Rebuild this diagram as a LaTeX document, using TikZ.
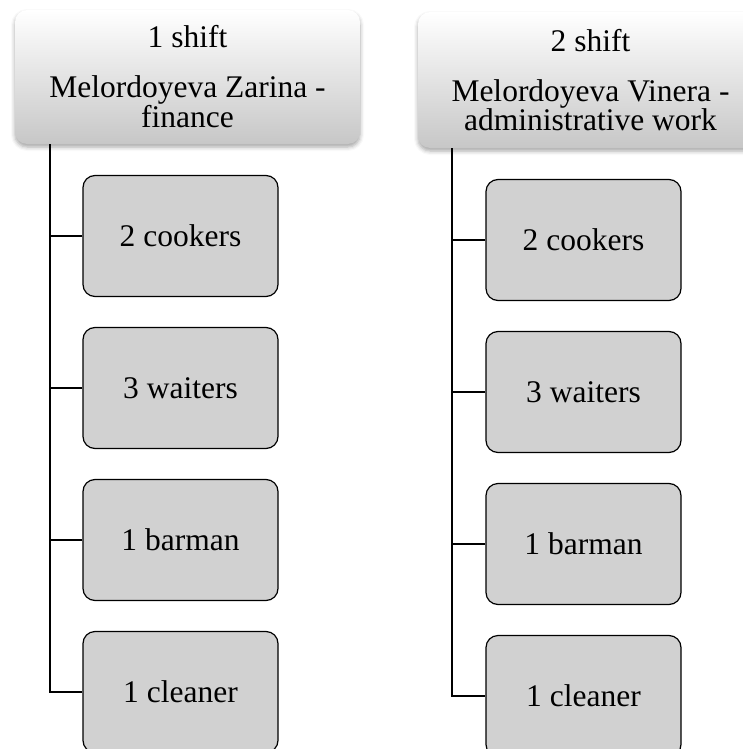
\documentclass[tikz,border=0pt]{standalone}
\usepackage{fontspec}
\setmainfont{Liberation Serif}
\usetikzlibrary{shadows.blur}
\tikzset{
    shiftbox/.style = {rectangle, rounded corners=12pt,
        top color=white, bottom color=black!22,
        blur shadow={shadow xshift=0pt, shadow yshift=-3pt, shadow opacity=35, shadow blur radius=4pt},
        minimum width=345pt, align=center,
        font=\fontsize{31.5}{28}\selectfont},
    staff/.style = {draw, rectangle, rounded corners=12pt, line width=1.2pt,
        fill=black!18, minimum height=121pt,
        minimum width=195pt, align=center,
        font=\fontsize{31.5}{38}\selectfont},
    link/.style={draw, line width=1.3pt}
}

\begin{document}
\begin{tikzpicture}[x=1pt, y=-1pt]
    \useasboundingbox (0,0) rectangle (743,749);
    \clip (0,0) rectangle (743,749);
        % first shift
        \node [shiftbox, minimum height=134pt] (top1) at (187.5,77) {1 shift\\[22pt]Melordoyeva Zarina -\\finance};
        \node [staff] (c1) at (180.5,236) {2 cookers};
        \node [staff, below of=c1, node distance=152pt] (w1) {3 waiters};
        \node [staff, below of=w1, node distance=152pt] (b1) {1 barman};
        \node [staff, below of=b1, node distance=152pt] (cl1) {1 cleaner};
        \coordinate (x1) at (50,0);
        \coordinate (t1) at (top1.south -| x1);
        \draw [link] (t1) |- (cl1.west);
        \draw [link] (c1.west) -- (c1.west -| t1);
        \draw [link] (w1.west) -- (w1.west -| t1);
        \draw [link] (b1.west) -- (b1.west -| t1);
        % second shift
        \node [shiftbox, minimum height=136pt] (top2) at (590.5,80) {2 shift\\[22pt]Melordoyeva Vinera -\\administrative work};
        \node [staff] (c2) at (583.5,240) {2 cookers};
        \node [staff, below of=c2, node distance=152pt] (w2) {3 waiters};
        \node [staff, below of=w2, node distance=152pt] (b2) {1 barman};
        \node [staff, below of=b2, node distance=152pt] (cl2) {1 cleaner};
        \coordinate (x2) at (452,0);
        \coordinate (t2) at (top2.south -| x2);
        \draw [link] (t2) |- (cl2.west);
        \draw [link] (c2.west) -- (c2.west -| t2);
        \draw [link] (w2.west) -- (w2.west -| t2);
        \draw [link] (b2.west) -- (b2.west -| t2);
    \end{tikzpicture}
\end{document}
